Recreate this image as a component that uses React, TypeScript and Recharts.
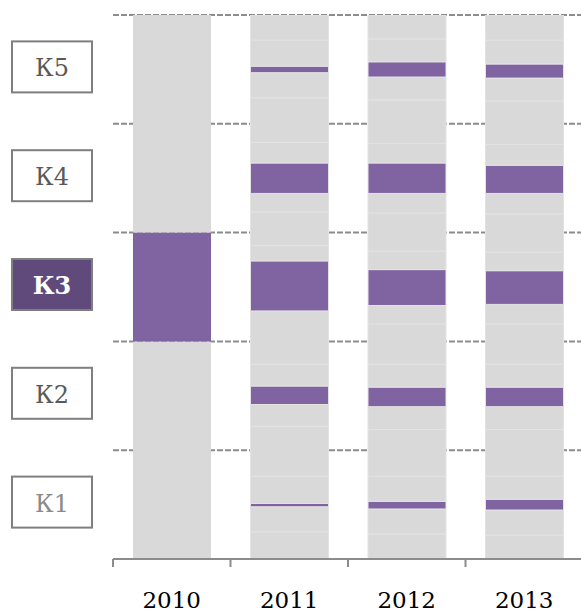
import { BarChart, Bar, XAxis, YAxis, CartesianGrid, Cell } from 'recharts'

const years = ['2010', '2011', '2012', '2013']
const levels = ['К1', 'К2', 'К3', 'К4', 'К5']
const activeLevel = 'К3'

// stacked segments per year, bottom-up, in K-band units
const seg2010 = [2, 1, 2]
const seg2011 = [0.25, 0.23, 0.03, 0.25, 0.46, 0.2, 0.17, 0.2, 0.49, 0.46, 0.14, 0.31, 0.17, 0.28, 0.19, 0.41, 0.23, 0.06, 0.24, 0.23]
const seg2012 = [0.23, 0.23, 0.07, 0.23, 0.43, 0.21, 0.18, 0.21, 0.37, 0.17, 0.33, 0.17, 0.35, 0.18, 0.28, 0.18, 0.4, 0.21, 0.14, 0.21, 0.22]
const seg2013 = [0.22, 0.23, 0.1, 0.21, 0.43, 0.21, 0.18, 0.21, 0.37, 0.18, 0.31, 0.17, 0.35, 0.19, 0.26, 0.19, 0.4, 0.21, 0.13, 0.22, 0.23]

// which segments are highlighted
const hi2010 = [1]
const hi2011 = [2, 6, 9, 13, 17]
const hi2012 = [2, 6, 10, 14, 18]
const hi2013 = [2, 6, 10, 14, 18]

const gridTicks = [0, 1, 2, 3, 4, 5]

const segments = [seg2010, seg2011, seg2012, seg2013]
const highlights = [hi2010, hi2011, hi2012, hi2013]
const maxSeg = Math.max(...segments.map(s => s.length))

const data = years.map((year, i) => {
  const row: Record<string, string | number> = { year }
  segments[i].forEach((v, j) => { row['s' + j] = v })
  return row
})

const PURPLE = '#8064a2'
const GRAY = '#d9d9d9'
const AXIS = '#8c8c8c'
const FONT = '"DejaVu Serif", serif'

function YearTick({ x, y, payload }: any) {
  const half = payload?.offset ?? 58.5
  return (
    <g>
      <line x1={x - half} x2={x - half} y1={y} y2={y + 8} stroke={AXIS} strokeWidth={2} />
      <text x={x} y={y + 49} textAnchor="middle" fontFamily={FONT} fontSize={23} fill="#000">
        {payload.value}
      </text>
    </g>
  )
}

// each grid tick labels the band just below it
function LevelTick({ y, payload, height }: any) {
  const idx = payload.value - 1
  if (idx < 0) return null
  const label = levels[idx]
  const active = label === activeLevel
  const lightest = idx === 0
  const cy = y + (height ? height / levels.length / 2 : 54.4) - 2
  return (
    <g>
      <rect x={12} y={cy - 26} width={80} height={51} fill={active ? '#604a7b' : '#fff'} stroke="#7f7f7f" strokeWidth={2} />
      <text
        x={52}
        y={cy + 9}
        textAnchor="middle"
        fontFamily={FONT}
        fontSize={24}
        fontWeight={active ? 'bold' : 'normal'}
        fill={active ? '#fff' : lightest ? '#8a8a8a' : '#595959'}
      >
        {label}
      </text>
    </g>
  )
}

export default function App() {
  return (
    <div style={{ position: 'absolute', left: 0, top: 0, width: 581, height: 612, overflow: 'hidden', background: '#fff' }}>
      <BarChart width={581} height={612} data={data} margin={{ top: 15, right: -2, left: 0, bottom: 0 }} barCategoryGap={0}>
        <CartesianGrid vertical={false} stroke={AXIS} strokeWidth={2} strokeDasharray="6 2" />
        <XAxis
          dataKey="year"
          height={53}
          interval={0}
          axisLine={{ stroke: AXIS, strokeWidth: 2 }}
          tickLine={false}
          tickSize={0}
          tickMargin={0}
          tick={<YearTick />}
        />
        <YAxis
          width={113}
          domain={[0, 5]}
          ticks={gridTicks}
          allowDataOverflow
          axisLine={false}
          tickLine={false}
          interval={0}
          tick={<LevelTick />}
        />
        {Array.from({ length: maxSeg }, (_, j) => (
          <Bar key={j} dataKey={'s' + j} stackId="a" barSize={78} isAnimationActive={false}>
            {years.map((yr, i) => (
              <Cell
                key={yr}
                fill={highlights[i].includes(j) ? PURPLE : GRAY}
                stroke={i === 0 ? 'none' : '#e3e3e3'}
                strokeWidth={1}
              />
            ))}
          </Bar>
        ))}
      </BarChart>
    </div>
  )
}
